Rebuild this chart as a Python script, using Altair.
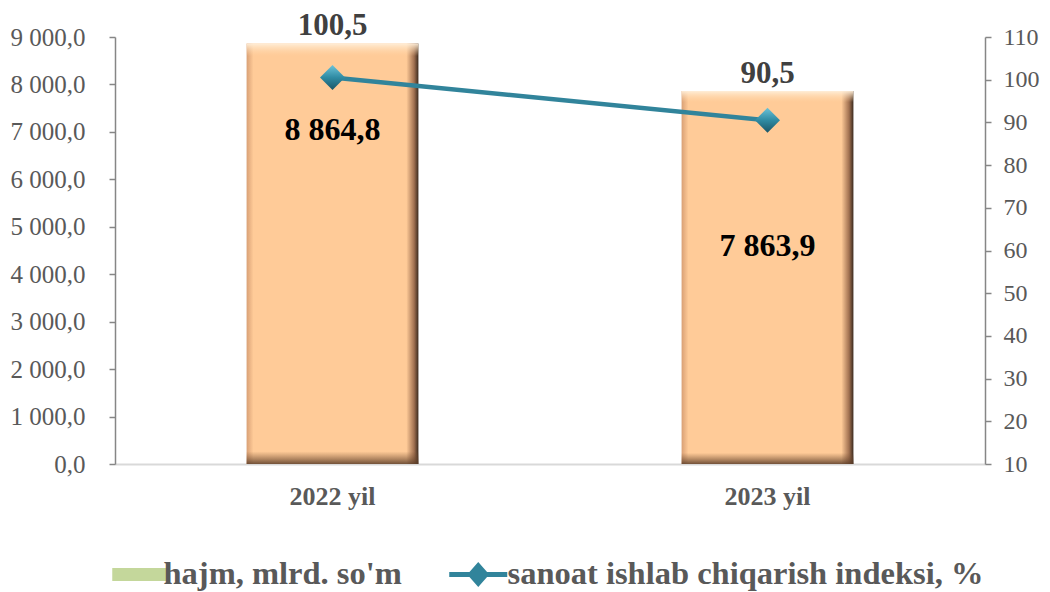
import altair as alt
import pandas as pd

years = ["2022 yil", "2023 yil"]
volume = [8864.8, 7863.9]
index_pct = [100.5, 90.5]
series = ["hajm, mlrd. so'm", "sanoat ishlab chiqarish indeksi, %"]
left_ticks = [0, 1000, 2000, 3000, 4000, 5000, 6000, 7000, 8000, 9000]
right_ticks = [10, 20, 30, 40, 50, 60, 70, 80, 90, 100, 110]


def fmt(v):
    return f"{v:,.1f}".replace(",", " ").replace(".", ",")


df = pd.DataFrame({
    "year": years,
    "volume": volume,
    "index": index_pct,
    "vol_label": [fmt(v) for v in volume],
    "idx_label": [f"{v:.1f}".replace(".", ",") for v in index_pct],
})
leg_df = pd.DataFrame({"series": series})

FONT = "Liberation Serif"
AXIS_GRAY = "#868686"
LABEL_GRAY = "#595959"

x_enc = alt.X(
    "year:N", sort=years,
    scale=alt.Scale(paddingInner=0.605, paddingOuter=0.3025),
    axis=alt.Axis(title=None, labelFont=FONT, labelFontSize=26, labelFontWeight="bold",
                  labelColor=LABEL_GRAY, ticks=False, domainColor="#D9D9D9", domainWidth=2,
                  labelPadding=19, labelAngle=0),
)
y_left = alt.Y(
    "volume:Q",
    scale=alt.Scale(domain=[0, 9000], nice=False),
    axis=alt.Axis(title=None, values=left_ticks, grid=False,
                  labelExpr="replace(replace(format(datum.value, ',.1f'), ',', ' '), '.', ',')",
                  labelFont=FONT, labelFontSize=25, labelColor=LABEL_GRAY,
                  tickColor=AXIS_GRAY, domainColor=AXIS_GRAY, tickSize=6, tickWidth=1.5,
                  domainWidth=1.5, labelPadding=24),
)
y_right = alt.Y(
    "index:Q",
    scale=alt.Scale(domain=[10, 110], nice=False),
    axis=alt.Axis(title=None, orient="right", values=right_ticks, grid=False, format="d",
                  labelFont=FONT, labelFontSize=24, labelColor=LABEL_GRAY,
                  tickColor=AXIS_GRAY, domainColor=AXIS_GRAY, tickSize=6, tickWidth=1.5,
                  domainWidth=1.5, labelPadding=12),
)

grad_h = alt.Gradient(
    gradient="linear", x1=0, x2=1, y1=0, y2=0,
    stops=[
        alt.GradientStop(offset=0, color="#D9A075"),
        alt.GradientStop(offset=0.04, color="#FFCB98"),
        alt.GradientStop(offset=0.93, color="#FFCB98"),
        alt.GradientStop(offset=0.975, color="#A07050"),
        alt.GradientStop(offset=1, color="#3A2A1E"),
    ],
)
grad_v = alt.Gradient(
    gradient="linear", x1=0, x2=0, y1=0, y2=1,
    stops=[
        alt.GradientStop(offset=0, color="rgba(255,240,220,0.95)"),
        alt.GradientStop(offset=0.03, color="rgba(255,215,170,0)"),
        alt.GradientStop(offset=0.97, color="rgba(120,80,50,0)"),
        alt.GradientStop(offset=1, color="rgba(90,60,40,0.85)"),
    ],
)
grad_d = alt.Gradient(
    gradient="linear", x1=0, x2=0, y1=0, y2=1,
    stops=[
        alt.GradientStop(offset=0, color="#6CC3D8"),
        alt.GradientStop(offset=0.5, color="#2F8BA3"),
        alt.GradientStop(offset=1, color="#1B5566"),
    ],
)

base = alt.Chart(df)

bar_side = base.mark_bar(fill=grad_h).encode(x=x_enc, y=y_left)
bar_top = base.mark_bar(fill=grad_v).encode(x=x_enc, y=y_left)
idx_text = base.mark_text(font=FONT, fontSize=31, fontWeight="bold", color="#404040",
                          baseline="alphabetic", dy=-8).encode(x=x_enc, y=y_left, text="idx_label:N")
val_text_a = base.transform_filter(alt.datum.year == years[0]).mark_text(
    font=FONT, fontSize=32, fontWeight="bold", color="#000000", baseline="alphabetic", dy=97
).encode(x=x_enc, y=y_left, text="vol_label:N")
val_text_b = base.transform_filter(alt.datum.year == years[1]).mark_text(
    font=FONT, fontSize=32, fontWeight="bold", color="#000000", baseline="alphabetic", dy=165
).encode(x=x_enc, y=y_left, text="vol_label:N")

left = alt.layer(bar_side, bar_top, idx_text, val_text_a, val_text_b)

line = base.mark_line(color="#31849B", strokeWidth=4.5).encode(x=x_enc, y=y_right)
pts = base.mark_point(shape="diamond", filled=True, size=625, fill=grad_d, opacity=1).encode(x=x_enc, y=y_right)
right = alt.layer(line, pts)

path_bar = "M-2.75,-0.65H2.75V0.65H-2.75Z"
path_line = "M-3.45,-0.25H2.35V0.25H-3.45Z M-0.55,-1.25L0.55,0L-0.55,1.25L-1.65,0Z"

leg = alt.Legend(orient="none", legendX=8.5, legendY=521, direction="horizontal", title=None,
                 labelFont=FONT, labelFontSize=32.5, labelFontWeight="bold", labelColor=LABEL_GRAY,
                 symbolSize=400, symbolStrokeWidth=0, labelOffset=7.5, columnPadding=46,
                 padding=0, symbolOpacity=1, labelLimit=1000)

legend_layer = alt.Chart(leg_df).mark_point(filled=True, opacity=0).encode(
    x=alt.value(0), y=alt.value(0),
    fill=alt.Fill("series:N", scale=alt.Scale(domain=series, range=["#C4D79B", "#31849B"]), legend=leg),
    shape=alt.Shape("series:N", scale=alt.Scale(domain=series, range=[path_bar, path_line]), legend=leg),
)

chart = alt.layer(left, right, legend_layer).resolve_scale(y="independent").properties(
    width=870, height=427,
    padding={"left": 2, "top": 2, "right": 2, "bottom": 0},
).configure_view(stroke=None)

chart.save("out.html", embed_options={"renderer": "svg", "actions": False})
